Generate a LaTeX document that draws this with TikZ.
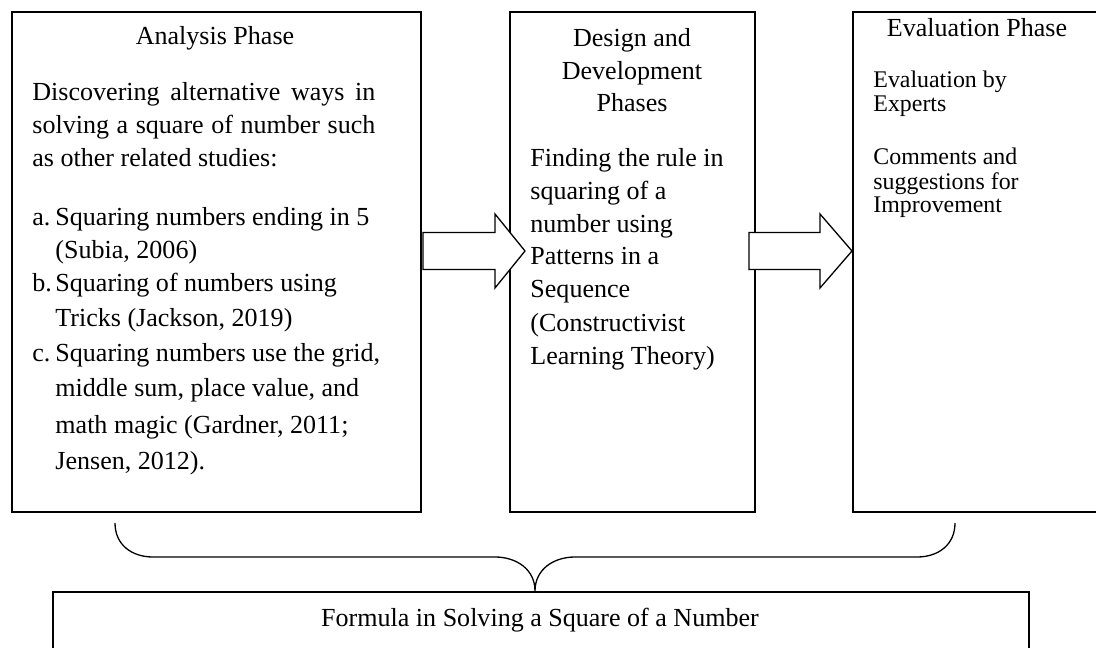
\documentclass[tikz,border=0pt]{standalone}
\usepackage{fontspec}
\setmainfont{Liberation Serif}
\begin{document}
\begin{tikzpicture}[x=0.4608pt,y=-0.4608pt,
  box/.style={draw,line width=0.75pt,rectangle,inner sep=0pt,anchor=north west},
  blockarrow/.style={draw,fill=white,line width=0.6pt,line join=miter},
  brace/.style={draw,line width=0.6pt},
  txt/.style={anchor=base west,inner sep=0pt,font=\fontsize{12}{14}\selectfont},
  ttl/.style={anchor=base,inner sep=0pt,font=\fontsize{12}{14}\selectfont},
  smalltxt/.style={anchor=base west,inner sep=0pt,font=\fontsize{11}{13}\selectfont}]
\useasboundingbox (0,0) rectangle (1096,648);
\begin{scope}
\clip (0,0) rectangle (1096,648);
% boxes
\node[box,minimum width=409*0.4608pt,minimum height=500*0.4608pt] (analysis) at (11,11) {};
\node[box,minimum width=245*0.4608pt,minimum height=500*0.4608pt] (design) at (509,11) {};
\node[box,minimum width=250*0.4608pt,minimum height=500*0.4608pt] (evaluation) at (852,11) {};
\node[box,minimum width=976*0.4608pt,minimum height=120*0.4608pt] (formula) at (52,591) {};
% block arrows
\draw[blockarrow] (423,232.5) -- (495,232.5) -- (495,214) -- (525,251) -- (495,288) -- (495,269.5) -- (423,269.5) -- cycle;
\draw[blockarrow] (749,232.5) -- (820,232.5) -- (820,214) -- (852,251) -- (820,288) -- (820,269.5) -- (749,269.5) -- cycle;
% brace
\draw[brace] (115,523) .. controls (115,545) and (132,557) .. (153,557) -- (495,557)
  .. controls (516,557) and (535,569) .. (535,591)
  .. controls (535,569) and (554,557) .. (575,557) -- (917,557)
  .. controls (938,557) and (955,545) .. (955,523);
\end{scope}
% box 1 text
\node[ttl] (t1) at (215,45) {Analysis Phase};
\node[txt] (p1a) at (32,101) {\makebox[158.05pt][s]{Discovering alternative ways in}};
\node[txt] (p1b) at (32,134) {\makebox[158.05pt][s]{solving a square of number such}};
\node[txt] (p1c) at (32,167) {as other related studies:};
\node[txt] (la) at (32,226) {a.};
\node[txt] (ia1) at (55,226) {Squaring numbers ending in 5};
\node[txt] (ia2) at (55,259) {(Subia, 2006)};
\node[txt] (lb) at (32,292) {b.};
\node[txt] (ib1) at (55,292) {Squaring of numbers using};
\node[txt] (ib2) at (55,327) {Tricks (Jackson, 2019)};
\node[txt] (lc) at (32,362) {c.};
\node[txt] (ic1) at (55,362) {Squaring numbers use the grid,};
\node[txt] (ic2) at (55,397) {middle sum, place value, and};
\node[txt] (ic3) at (55,433) {math magic (Gardner, 2011;};
\node[txt] (ic4) at (55,469) {Jensen, 2012).};
% box 2 text
\node[ttl] (t2a) at (632,47) {Design and};
\node[ttl] (t2b) at (632,80) {Development};
\node[ttl] (t2c) at (632,112) {Phases};
\node[txt] (d1) at (530,167) {Finding the rule in};
\node[txt] (d2) at (530,200) {squaring of a};
\node[txt] (d3) at (530,233) {number using};
\node[txt] (d4) at (530,265) {Patterns in a};
\node[txt] (d5) at (530,298) {Sequence};
\node[txt] (d6) at (530,332) {(Constructivist};
\node[txt] (d7) at (530,365) {Learning Theory)};
% box 3 text
\node[ttl] (t3) at (977,37) {Evaluation Phase};
\node[smalltxt] (e1) at (873,88) {Evaluation by};
\node[smalltxt] (e2) at (873,112) {Experts};
\node[smalltxt] (e3) at (873,165) {Comments and};
\node[smalltxt] (e4) at (873,190) {suggestions for};
\node[smalltxt] (e5) at (873,213) {Improvement};
% bottom text
\node[ttl] (ft) at (540,626) {Formula in Solving a Square of a Number};
\end{tikzpicture}
\end{document}
